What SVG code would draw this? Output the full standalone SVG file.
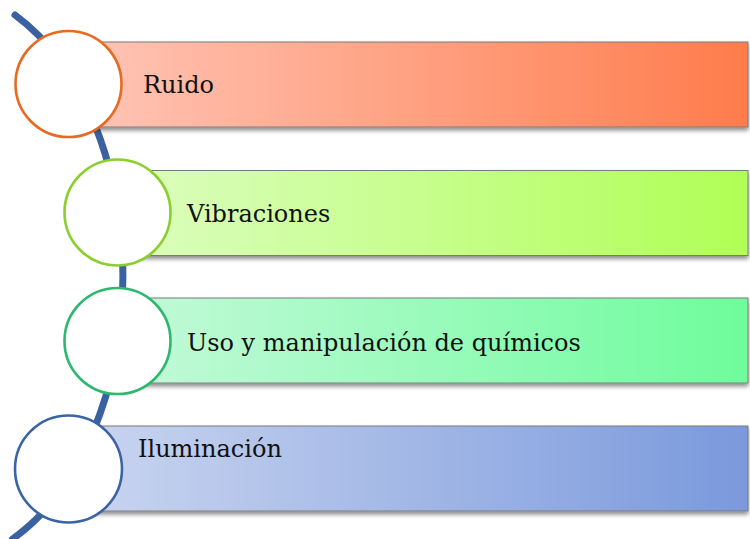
<svg xmlns="http://www.w3.org/2000/svg" width="750" height="539" viewBox="0 0 750 539">
<defs>
<linearGradient id="g1" x1="0" y1="0" x2="1" y2="0"><stop offset="0" stop-color="#FFC6B8"/><stop offset="1" stop-color="#FF7C4C"/></linearGradient>
<linearGradient id="g2" x1="0" y1="0" x2="1" y2="0"><stop offset="0" stop-color="#DCFDC0"/><stop offset="1" stop-color="#B0FF55"/></linearGradient>
<linearGradient id="g3" x1="0" y1="0" x2="1" y2="0"><stop offset="0" stop-color="#C4F9DA"/><stop offset="1" stop-color="#6EFC9C"/></linearGradient>
<linearGradient id="g4" x1="0" y1="0" x2="1" y2="0"><stop offset="0" stop-color="#CBD6F0"/><stop offset="1" stop-color="#7A99DC"/></linearGradient>
<filter id="sh" x="-5%" y="-20%" width="110%" height="150%"><feDropShadow dx="0" dy="3" stdDeviation="2.2" flood-color="#000" flood-opacity="0.45"/></filter>
</defs>
<style>
.bar{stroke:#7a7a7a;stroke-width:1;filter:url(#sh)}
.c{fill:#fff;stroke-width:2.6}
.t{font-family:"DejaVu Serif","Liberation Serif",serif;font-size:24px;fill:#111}
</style>
<g id="connectors">
<path d="M15 15 A191 290 0 0 1 12.5 539" fill="none" stroke="#3A62A0" stroke-width="7" stroke-linecap="round"/>
</g>
<g id="node-ruido">
<rect class="bar" x="68" y="42" width="680" height="85" fill="url(#g1)"/>
<circle class="c" cx="68.5" cy="84" r="53" stroke="#E8691F"/>
<text class="t" x="143" y="93">Ruido</text>
</g>
<g id="node-vibraciones">
<rect class="bar" x="117" y="170.5" width="631" height="85" fill="url(#g2)"/>
<circle class="c" cx="117.5" cy="212.5" r="53" stroke="#8ACF2C"/>
<text class="t" x="187" y="222">Vibraciones</text>
</g>
<g id="node-quimicos">
<rect class="bar" x="117" y="298" width="631" height="85" fill="url(#g3)"/>
<circle class="c" cx="117.5" cy="341" r="53" stroke="#2DB870"/>
<text class="t" x="187" y="350.5">Uso y manipulación de químicos</text>
</g>
<g id="node-iluminacion">
<rect class="bar" x="68" y="426" width="680" height="85" fill="url(#g4)"/>
<circle class="c" cx="68.5" cy="469" r="53.5" stroke="#3B64A4"/>
<text class="t" x="138" y="457">Iluminación</text>
</g>
</svg>
